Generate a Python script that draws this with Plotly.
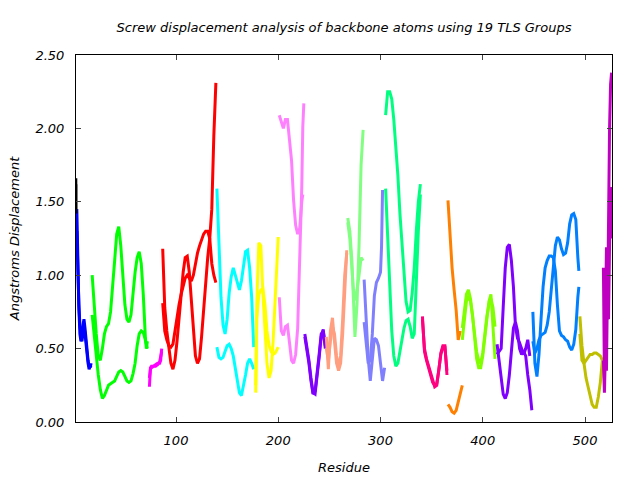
import plotly.graph_objects as go

# ---- data: residue numbers and two backbone-atom screw displacement curves per TLS group ----
res_black1 = [2, 2]
a_black1 = [1.66, 1.42]
b_black1 = [1.62, 1.45]

res_blue = [3, 4, 5, 6, 7, 8, 9, 10, 11, 12, 13, 14, 15, 16, 17]
a_blue = [1.45, 1.05, 0.78, 0.6, 0.55, 0.62, 0.68, 0.7, 0.64, 0.55, 0.47, 0.42, 0.38, 0.37, 0.4]
b_blue = [1.3, 0.92, 0.8, 0.66, 0.58, 0.55, 0.6, 0.66, 0.6, 0.52, 0.45, 0.4, 0.36, 0.38, 0.37]

res_green = [18, 20, 22, 24, 26, 28, 30, 32, 34, 36, 38, 40, 42, 44, 46, 48, 50, 52, 54, 56,
             58, 60, 62, 64, 66, 68, 70, 71, 72]
a_green = [1.0, 0.78, 0.6, 0.45, 0.42, 0.5, 0.6, 0.65, 0.67, 0.75, 0.9, 1.1, 1.28, 1.33, 1.2,
           0.98, 0.8, 0.7, 0.68, 0.73, 0.88, 1.02, 1.12, 1.16, 1.08, 0.87, 0.58, 0.5, 0.55]
b_green = [0.73, 0.58, 0.42, 0.32, 0.22, 0.16, 0.18, 0.22, 0.25, 0.26, 0.27, 0.28, 0.31, 0.34,
           0.35, 0.34, 0.31, 0.28, 0.27, 0.28, 0.33, 0.4, 0.52, 0.6, 0.62, 0.61, 0.56, 0.52, 0.5]

res_magenta = [74, 75, 76, 78, 80, 82, 84, 85, 86]
a_magenta = [0.24, 0.37, 0.38, 0.38, 0.39, 0.4, 0.4, 0.42, 0.5]
b_magenta = [0.3, 0.36, 0.37, 0.38, 0.38, 0.39, 0.41, 0.45, 0.48]

res_red = [87, 89, 91, 93, 95, 97, 99, 101, 103, 105, 107, 109, 111, 113, 115, 117, 119, 121,
           123, 125, 127, 129, 131, 133, 135, 137, 138, 139]
a_red = [1.18, 0.78, 0.62, 0.5, 0.4, 0.36, 0.42, 0.55, 0.7, 0.88, 1.02, 1.12, 1.13, 1.02, 0.85,
         0.62, 0.45, 0.4, 0.43, 0.58, 0.78, 0.98, 1.12, 1.25, 1.45, 1.95, 2.15, 2.31]
b_red = [0.81, 0.62, 0.56, 0.52, 0.51, 0.53, 0.62, 0.72, 0.8, 0.87, 0.92, 0.98, 1.0, 0.98, 0.96,
         1.0, 1.08, 1.15, 1.2, 1.24, 1.28, 1.3, 1.3, 1.25, 1.08, 1.0, 0.97, 0.95]

res_cyan = [140, 142, 144, 146, 148, 150, 152, 154, 156, 158, 160, 162, 164, 166, 168, 170, 172, 174, 176]
a_cyan = [1.59, 1.2, 0.85, 0.66, 0.6, 0.7, 0.88, 0.99, 1.05, 1.0, 0.94, 0.9, 0.96, 1.06, 1.16,
          1.17, 1.05, 0.85, 0.51]
b_cyan = [0.51, 0.44, 0.43, 0.44, 0.48, 0.52, 0.53, 0.5, 0.45, 0.36, 0.26, 0.2, 0.18, 0.24, 0.32,
          0.4, 0.43, 0.4, 0.36]

res_yellow = [178, 179, 181, 183, 185, 187, 189, 191, 193, 195, 197, 199, 200]
a_yellow = [0.2, 0.8, 1.22, 1.2, 0.87, 0.6, 0.4, 0.3, 0.35, 0.55, 0.85, 1.2, 1.26]
b_yellow = [0.25, 0.7, 0.87, 0.9, 0.91, 0.8, 0.62, 0.52, 0.48, 0.46, 0.47, 0.5, 0.51]

res_violet = [201, 203, 205, 207, 209, 211, 213, 215, 217, 219, 221, 223, 224, 225]
a_violet = [2.09, 2.04, 2.0, 2.06, 2.06, 1.92, 1.78, 1.51, 1.34, 1.28, 1.32, 1.5, 1.55, None]
b_violet = [0.85, 0.62, 0.59, 0.65, 0.66, 0.54, 0.42, 0.4, 0.46, 0.64, 1.1, 1.6, 2.01, 2.17]

res_purple1 = [226, 228, 230, 232, 234, 236, 238, 240, 242, 244, 246]
a_purple1 = [0.6, 0.52, 0.42, 0.3, 0.2, 0.19, 0.3, 0.44, 0.58, 0.63, 0.5]
b_purple1 = [0.58, 0.5, 0.4, 0.28, 0.19, 0.21, 0.32, 0.46, 0.6, 0.62, 0.52]

res_salmon = [247, 249, 251, 253, 255, 257, 259, 261, 263, 265, 267]
a_salmon = [0.58, 0.36, 0.62, 0.71, 0.55, 0.4, 0.35, 0.4, 0.6, 0.87, 1.17]
b_salmon = [0.5, 0.42, 0.55, 0.65, 0.6, 0.45, 0.37, 0.45, 0.7, 1.0, 1.15]

res_lightgreen = [268, 270, 272, 274, 275, 277, 279, 281, 283]
a_lightgreen = [1.39, 1.3, 1.1, 0.7, 0.58, 0.8, 1.2, 1.75, 1.99]
b_lightgreen = [1.36, 1.25, 1.05, 0.85, 0.83, 0.9, 1.0, 1.12, 1.1]

res_slate = [284, 286, 288, 290, 292, 294, 296, 298, 300, 301, 302, 304]
a_slate = [0.97, 0.65, 0.43, 0.28, 0.42, 0.57, 0.56, 0.52, 0.4, 0.33, 0.28, 0.37]
b_slate = [0.68, 0.55, 0.4, 0.42, 0.6, 0.86, 0.95, 0.98, 1.02, 1.19, 1.58, None]

res_spring = [305, 307, 309, 311, 313, 315, 317, 319, 321, 323, 325, 327, 329, 331, 333, 335, 337, 339]
a_spring = [2.09, 2.25, 2.25, 2.2, 2.06, 1.88, 1.68, 1.42, 1.2, 0.98, 0.82, 0.75, 0.76, 0.88,
            1.05, 1.3, 1.5, 1.62]
b_spring = [1.59, 1.25, 0.9, 0.62, 0.45, 0.38, 0.4, 0.48, 0.57, 0.64, 0.69, 0.7, 0.65, 0.57,
            0.6, 1.0, 1.3, 1.55]

res_deeppink = [341, 343, 345, 347, 349, 351, 353, 355, 357, 359, 361, 363, 365]
a_deeppink = [0.72, 0.48, 0.42, 0.37, 0.32, 0.27, 0.25, 0.26, 0.35, 0.47, 0.52, 0.52, 0.32]
b_deeppink = [0.7, 0.5, 0.43, 0.38, 0.33, 0.28, 0.24, 0.25, 0.34, 0.46, 0.51, 0.51, 0.35]

res_orange = [366, 368, 370, 372, 374, 376, 378, 380]
a_orange = [1.51, 1.25, 1.05, 0.9, 0.76, 0.56, 0.62, None]
b_orange = [0.12, 0.1, 0.07, 0.06, 0.08, 0.14, 0.2, 0.25]

res_chartreuse = [380, 382, 384, 386, 388, 390, 392, 394, 396, 398, 400, 402, 404, 406, 408, 410, 412]
a_chartreuse = [0.64, 0.78, 0.87, 0.9, 0.84, 0.73, 0.56, 0.43, 0.37, 0.37, 0.45, 0.56, 0.7,
                0.82, 0.87, 0.64, 0.43]
b_chartreuse = [0.56, 0.7, 0.82, 0.86, 0.82, 0.72, 0.6, 0.48, 0.42, 0.4, 0.47, 0.6, 0.72, 0.8,
                0.84, 0.78, 0.65]

res_purple2 = [414, 416, 418, 420, 422, 424, 426, 428, 430, 432, 434, 436, 438, 440, 442, 444, 446, 448]
a_purple2 = [0.53, 0.42, 0.3, 0.19, 0.16, 0.2, 0.32, 0.5, 0.64, 0.68, 0.62, 0.5, 0.46, 0.48,
             0.45, 0.32, 0.22, 0.08]
b_purple2 = [0.46, 0.48, 0.5, 0.78, 1.05, 1.19, 1.21, 1.1, 0.92, 0.65, 0.57, 0.54, 0.5, 0.46,
             0.5, 0.56, 0.45, None]

res_dodger = [449, 451, 453, 455, 457, 459, 461, 463, 465, 467, 469, 471, 473, 475, 477, 479,
              481, 483, 485, 487, 489, 491, 493, 494]
a_dodger = [0.75, 0.4, 0.31, 0.46, 0.7, 0.92, 1.05, 1.1, 1.13, 1.13, 1.12, 1.03, 0.8, 0.62,
            0.59, 0.58, 0.56, 0.55, 0.51, 0.49, 0.53, 0.63, 0.85, 0.92]
b_dodger = [0.55, 0.47, 0.5, 0.56, 0.59, 0.6, 0.61, 0.66, 0.75, 0.9, 1.04, 1.2, 1.26, 1.24,
            1.18, 1.14, 1.15, 1.22, 1.35, 1.41, 1.42, 1.38, 1.12, 1.03]

res_olive = [495, 497, 499, 501, 503, 505, 507, 509, 511, 513, 515, 517]
a_olive = [0.72, 0.52, 0.4, 0.3, 0.24, 0.18, 0.12, 0.1, 0.1, 0.17, 0.27, 0.42]
b_olive = [0.6, 0.42, 0.4, 0.42, 0.44, 0.46, 0.46, 0.47, 0.47, 0.46, 0.45, 0.42]

res_darkmagenta = [518, 519, 520, 521, 522, 523, 524, 525, 526]
a_darkmagenta = [1.05, 0.3, 0.75, 1.19, 0.7, 1.7, 2.0, 2.3, 2.38]
b_darkmagenta = [0.42, 0.2, 0.5, 0.35, 0.95, 0.7, 1.2, 1.6, 1.25]

x_tick_vals = [100, 200, 300, 400, 500]
y_tick_vals = [0.0, 0.5, 1.0, 1.5, 2.0, 2.5]
y_tick_text = ["0.00", "0.50", "1.00", "1.50", "2.00", "2.50"]

groups = [
    ("#0000ff", res_blue, a_blue, b_blue),
    ("#000000", res_black1, a_black1, b_black1),
    ("#00ff00", res_green, a_green, b_green),
    ("#ff00ff", res_magenta, a_magenta, b_magenta),
    ("#ff0000", res_red, a_red, b_red),
    ("#00ffff", res_cyan, a_cyan, b_cyan),
    ("#ffff00", res_yellow, a_yellow, b_yellow),
    ("#ff80ff", res_violet, a_violet, b_violet),
    ("#8000ff", res_purple1, a_purple1, b_purple1),
    ("#ff9f80", res_salmon, a_salmon, b_salmon),
    ("#80ff80", res_lightgreen, a_lightgreen, b_lightgreen),
    ("#8080ff", res_slate, a_slate, b_slate),
    ("#00ff80", res_spring, a_spring, b_spring),
    ("#ff0080", res_deeppink, a_deeppink, b_deeppink),
    ("#ff8000", res_orange, a_orange, b_orange),
    ("#80ff00", res_chartreuse, a_chartreuse, b_chartreuse),
    ("#8000ff", res_purple2, a_purple2, b_purple2),
    ("#0080ff", res_dodger, a_dodger, b_dodger),
    ("#bfbf00", res_olive, a_olive, b_olive),
    ("#c000c0", res_darkmagenta, a_darkmagenta, b_darkmagenta),
]

fig = go.Figure()
for color, res, a, b in groups:
    for vals in (a, b):
        fig.add_trace(go.Scatter(x=res, y=vals, mode="lines", connectgaps=False,
                                 line=dict(color=color, width=3), showlegend=False,
                                 hoverinfo="skip"))

font_family = "DejaVu Sans"
txt_font = dict(family=font_family, size=13, style="italic", color="black")
fig.update_layout(
    width=640, height=480,
    margin=dict(l=76, r=28, t=55, b=58),
    paper_bgcolor="white", plot_bgcolor="white",
    font=txt_font,
    title=dict(text="Screw displacement analysis of backbone atoms using 19 TLS Groups",
               x=0.5375, xanchor="center", y=1 - 27 / 480, yanchor="middle",
               font=txt_font),
    xaxis=dict(range=[2.2, 526.4], tickvals=x_tick_vals, ticks="inside", ticklen=5,
               showline=True, mirror="ticks", linecolor="black", linewidth=1,
               showgrid=False, zeroline=False, tickfont=txt_font, ticklabelstandoff=6,
               automargin=False,
               title=dict(text="Residue", standoff=16, font=txt_font)),
    yaxis=dict(range=[0, 2.5], tickvals=y_tick_vals, ticktext=y_tick_text, ticks="inside",
               ticklen=5, showline=True, mirror="ticks", linecolor="black", linewidth=1,
               showgrid=False, zeroline=False, tickfont=txt_font, ticklabelstandoff=8,
               automargin=False,
               title=dict(text="Angstroms Displacement", standoff=12, font=txt_font)),
)

fig.write_html("out.html")
